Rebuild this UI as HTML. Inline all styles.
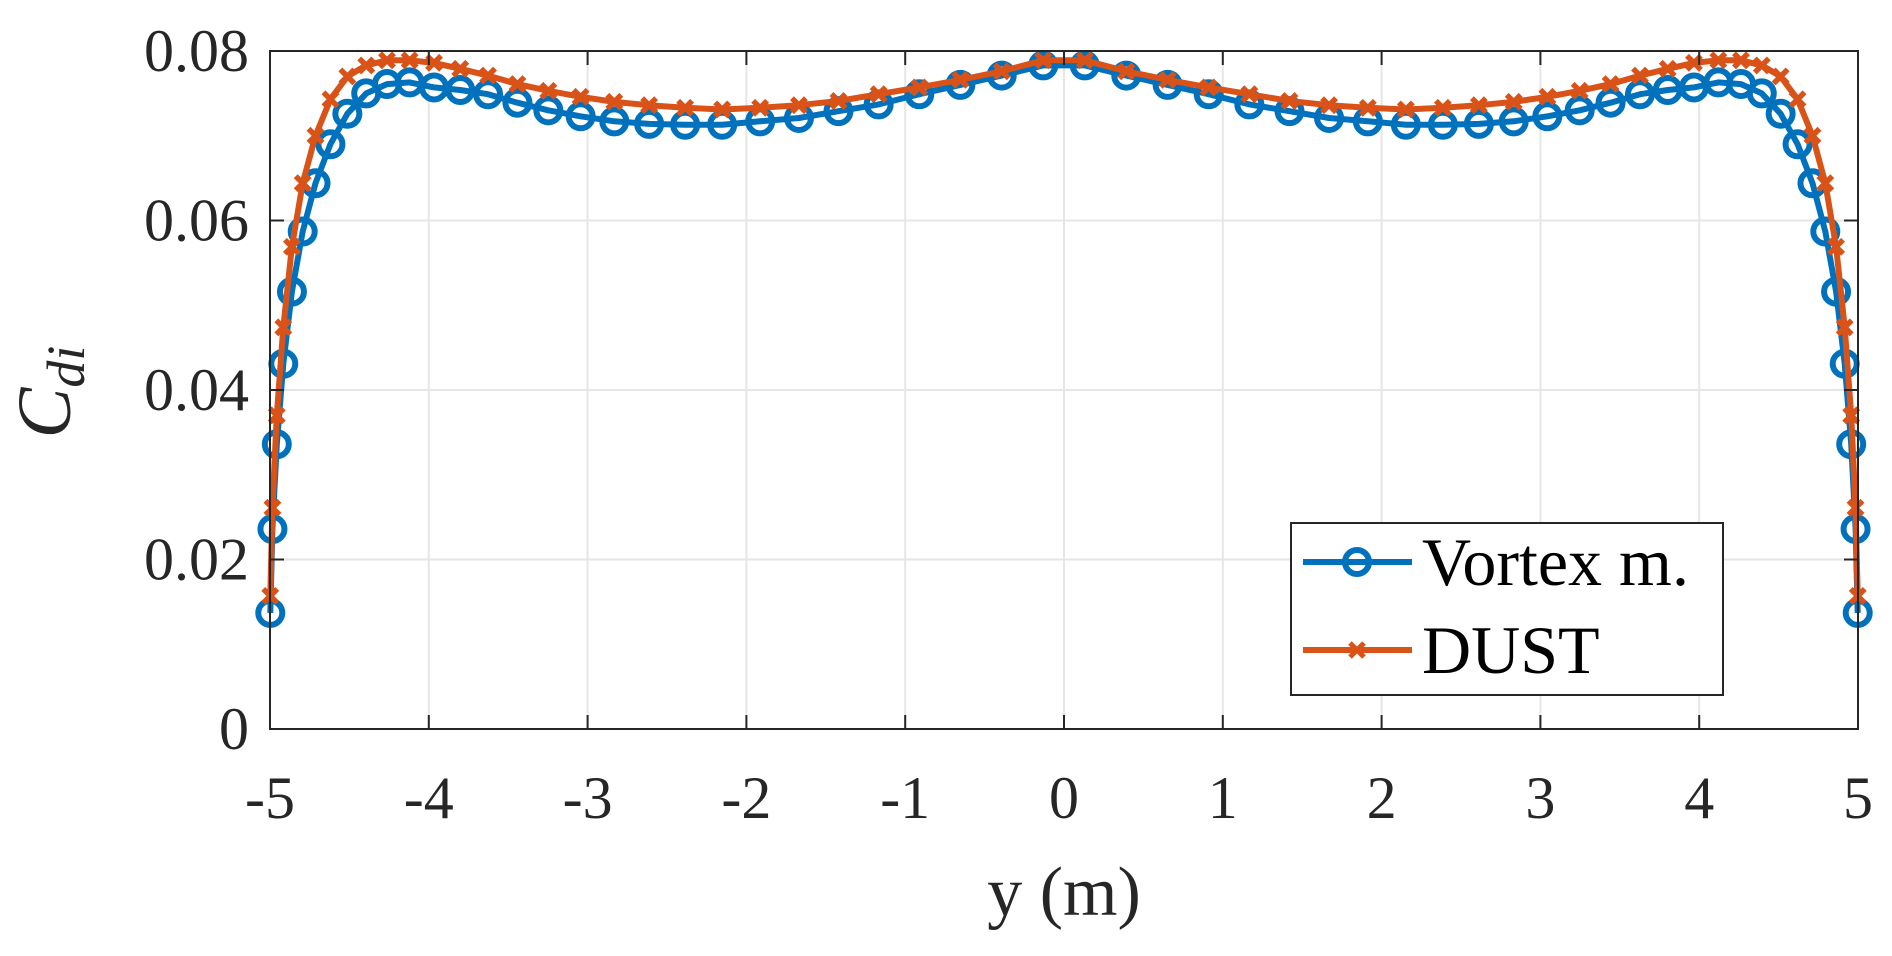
<!DOCTYPE html>
<html><head><meta charset="utf-8"><style>
html,body{margin:0;padding:0;background:#fff;}
svg text{font-family:"Liberation Serif",serif;fill:#262626;}
</style></head><body>
<svg id="chart" width="1892" height="951" viewBox="0 0 1892 951" xmlns="http://www.w3.org/2000/svg">
<rect width="1892" height="951" fill="#fff"/>
<g id="grid"></g>
<g id="series"></g>
<g id="axes"></g>
<text x="1064" y="915" font-size="70" text-anchor="middle">y (m)</text>
<text transform="translate(70,392) rotate(-90)" font-size="76" text-anchor="middle" font-style="italic">C<tspan font-size="54" dy="14">di</tspan></text>
<g>
<rect x="1291" y="523" width="432" height="172" fill="#fff" stroke="#262626" stroke-width="2"/>
<g>
<line x1="1303" y1="562" x2="1412" y2="562" stroke="#0072BD" stroke-width="6"/>
<circle cx="1357" cy="562" r="12" fill="none" stroke="#0072BD" stroke-width="6"/>
<text x="1422" y="585" font-size="68" style="fill:#000">Vortex m.</text>
</g>
<g>
<line x1="1303" y1="650" x2="1412" y2="650" stroke="#D95319" stroke-width="6"/>
<path d="M1350 643 L1364 657 M1364 643 L1350 657" stroke="#D95319" stroke-width="5"/>
<text x="1422" y="673" font-size="68" style="fill:#000">DUST</text>
</g>
</g>
</svg>
<script>
const yPos = [-4.9983,-4.9846,-4.9572,-4.9163,-4.8618,-4.7941,-4.7132,-4.6194,-4.5129,-4.3941,-4.2632,-4.1206,-3.9668,-3.8020,-3.6269,-3.4418,-3.2472,-3.0438,-2.8320,-2.6125,-2.3858,-2.1526,-1.9134,-1.6691,-1.4201,-1.1672,-0.9112,-0.6526,-0.3923,-0.1309,
0.1309,0.3923,0.6526,0.9112,1.1672,1.4201,1.6691,1.9134,2.1526,2.3858,2.6125,2.8320,3.0438,3.2472,3.4418,3.6269,3.8020,3.9668,4.1206,4.2632,4.3941,4.5129,4.6194,4.7132,4.7941,4.8618,4.9163,4.9572,4.9846,4.9983];
const vortexVals = [0.0137,0.0236,0.0336,0.0431,0.0516,0.0587,0.0644,0.0690,0.0726,0.0750,0.0761,0.0763,0.0757,0.0754,0.0749,0.0739,0.0730,0.0723,0.0717,0.0714,0.0713,0.0713,0.0717,0.0721,0.0729,0.0737,0.0749,0.0760,0.0771,0.0783,
0.0783,0.0771,0.0760,0.0749,0.0737,0.0729,0.0721,0.0717,0.0713,0.0713,0.0714,0.0717,0.0723,0.0730,0.0739,0.0749,0.0754,0.0757,0.0763,0.0761,0.0750,0.0726,0.0690,0.0644,0.0587,0.0516,0.0431,0.0336,0.0236,0.0137];
const dustVals = [0.0157,0.0261,0.0370,0.0474,0.0569,0.0644,0.0700,0.0743,0.0770,0.0783,0.0789,0.0789,0.0786,0.0779,0.0771,0.0761,0.0753,0.0746,0.0740,0.0736,0.0733,0.0731,0.0733,0.0736,0.0741,0.0749,0.0757,0.0766,0.0776,0.0789,
0.0789,0.0776,0.0766,0.0757,0.0749,0.0741,0.0736,0.0733,0.0731,0.0733,0.0736,0.0740,0.0746,0.0753,0.0761,0.0771,0.0779,0.0786,0.0789,0.0789,0.0783,0.0770,0.0743,0.0700,0.0644,0.0569,0.0474,0.0370,0.0261,0.0157];
const xTicks = [-5,-4,-3,-2,-1,0,1,2,3,4,5];
const xTickLabels = ["-5","-4","-3","-2","-1","0","1","2","3","4","5"];
const yTicks = [0,0.02,0.04,0.06,0.08];
const yTickLabels = ["0","0.02","0.04","0.06","0.08"];

const L=270,R=1858,T=51,B=729;
const sx=v=>L+(v+5)/10*(R-L);
const sy=v=>B-v/0.08*(B-T);
const NS="http://www.w3.org/2000/svg";
function mk(tag,attrs,parent){const e=document.createElementNS(NS,tag);for(const k in attrs)e.setAttribute(k,attrs[k]);parent.appendChild(e);return e;}
const grid=document.getElementById('grid'),axes=document.getElementById('axes'),ser=document.getElementById('series');
xTicks.forEach((t,i)=>{
  const g=mk('line',{x1:sx(t),x2:sx(t),y1:T,y2:B,stroke:'#e6e6e6','stroke-width':2},grid);
  
  
  const tk=mk('path',{d:`M${sx(t)} ${B} v-14 M${sx(t)} ${T} v14`,stroke:'#262626','stroke-width':2},axes);
  
  
  const lb=mk('text',{x:sx(t),y:818,'font-size':60,'text-anchor':'middle'},axes);
  lb.textContent=xTickLabels[i];
  
  
});
yTicks.forEach((t,i)=>{
  const g=mk('line',{x1:L,x2:R,y1:sy(t),y2:sy(t),stroke:'#e6e6e6','stroke-width':2},grid);
  
  
  const tk=mk('path',{d:`M${L} ${sy(t)} h14 M${R} ${sy(t)} h-14`,stroke:'#262626','stroke-width':2},axes);
  
  
  const lb=mk('text',{x:249,y:sy(t)+20,'font-size':60,'text-anchor':'end'},axes);
  lb.textContent=yTickLabels[i];
  
  
});
const box=mk('rect',{x:L,y:T,width:R-L,height:B-T,fill:'none',stroke:'#262626','stroke-width':2},axes);



function drawSeries(vals,color,name,marker){
  const g=mk('g',{},ser);
  
  
  const pts=yPos.map((x,i)=>sx(x).toFixed(1)+','+sy(vals[i]).toFixed(1)).join(' ');
  const pl=mk('polyline',{points:pts,fill:'none',stroke:color,'stroke-width':6,'stroke-linejoin':'round'},g);
  
  
  yPos.forEach((x,i)=>{
    const cx=sx(x),cy=sy(vals[i]);
    let m;
    if(marker==='o') m=mk('circle',{cx:cx,cy:cy,r:12,fill:'none',stroke:color,'stroke-width':6},g);
    else m=mk('path',{d:`M${cx-7} ${cy-7} L${cx+7} ${cy+7} M${cx+7} ${cy-7} L${cx-7} ${cy+7}`,stroke:color,'stroke-width':5.5},g);
    
    
  });
}
drawSeries(vortexVals,'#0072BD','vortex-series','o');
drawSeries(dustVals,'#D95319','dust-series','x');
</script>
</body></html>
